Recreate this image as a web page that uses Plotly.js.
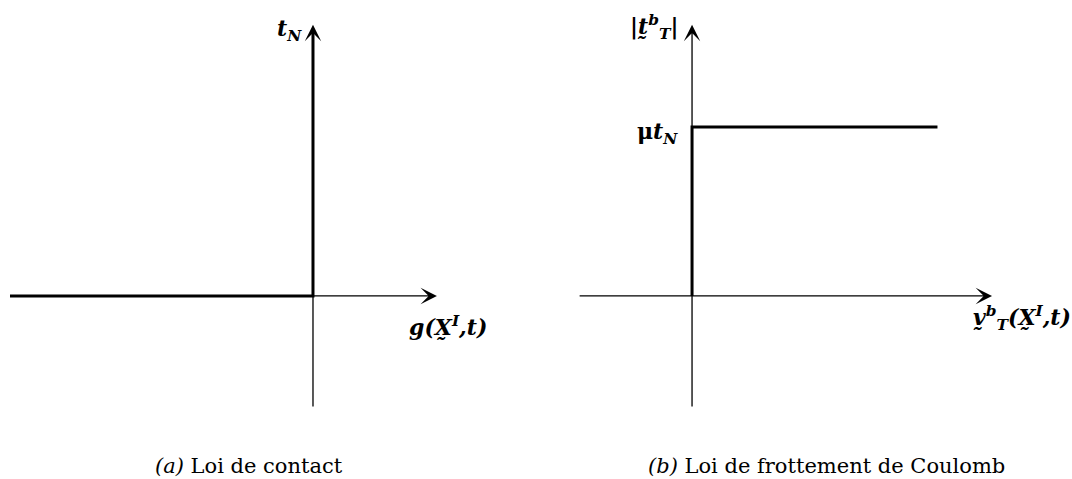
<!DOCTYPE html>
<html>
<head>
<meta charset="utf-8">
<script src="https://cdn.plot.ly/plotly-3.0.1.min.js"></script>
<style>html,body{margin:0;padding:0;background:#fff;}#chart{width:1072px;height:479px;}</style>
</head>
<body>
<div id="chart"></div>
<script>
// (a) Contact law: gap g vs normal traction tN
const gapA = [-1, 0, 0];
const tractionA = [0, 0, 1.58];
// (b) Coulomb friction: slip velocity vs |tT|
const slipB = [0, 0, 0.81];
const frictionB = [0, 1, 1];
// axis extents (data units)
const axisA = {xFrom: -1, xTo: 0.409, yFrom: -0.663, yTo: 1.604};
const axisB = {xFrom: -0.376, xTo: 0.99, yFrom: -0.663, yTo: 1.604};
const captions = ["<i>(a)</i> Loi de contact", "<i>(b)</i> Loi de frottement de Coulomb"];

const serif = "DejaVu Serif, Liberation Serif, serif";
const thick = {color: "#000", width: 3};

const traces = [
  {x: gapA, y: tractionA, xaxis: "x", yaxis: "y", mode: "lines", line: thick, hoverinfo: "skip"},
  {x: slipB, y: frictionB, xaxis: "x2", yaxis: "y2", mode: "lines", line: thick, hoverinfo: "skip"}
];

function axisArrows(ax, xr, yr) {
  const common = {text: "", showarrow: true, arrowhead: 3, arrowsize: 2.1, arrowwidth: 1.3,
    arrowcolor: "#000", standoff: 0, startstandoff: 0, axref: xr, ayref: yr, xref: xr, yref: yr};
  return [
    Object.assign({}, common, {x: ax.xTo, y: 0, ax: ax.xFrom, ay: 0}),
    Object.assign({}, common, {x: 0, y: ax.yTo, ax: 0, ay: ax.yFrom})
  ];
}

const lblFont = {family: serif, size: 22, color: "#000"};
const capFont = {family: serif, size: 21, color: "#000"};
const annotations = [].concat(
  axisArrows(axisA, "x", "y"),
  axisArrows(axisB, "x2", "y2"),
  [
    {xref: "x", yref: "y", x: -0.03, y: 1.574, text: "<b><i>t<sub>N</sub></i></b>", showarrow: false, xanchor: "right", yanchor: "middle", font: lblFont},
    {xref: "x", yref: "y", x: 0.31, y: -0.178, text: "<b><i>g(X\u0330<sup>I</sup>,t)</i></b>", showarrow: false, xanchor: "left", yanchor: "middle", font: lblFont},
    {xref: "x2", yref: "y2", x: -0.04, y: 1.59, text: "<b>|<i>t\u0330<sup>b</sup><sub>T</sub></i>|</b>", showarrow: false, xanchor: "right", yanchor: "middle", font: lblFont},
    {xref: "x2", yref: "y2", x: -0.04, y: 0.964, text: "<b>\u03bc<i>t<sub>N</sub></i></b>", showarrow: false, xanchor: "right", yanchor: "middle", font: lblFont},
    {xref: "x2", yref: "y2", x: 0.92, y: -0.13, text: "<b><i>v\u0330<sup>b</sup><sub>T</sub>(X\u0330<sup>I</sup>,t)</i></b>", showarrow: false, xanchor: "left", yanchor: "middle", font: lblFont},
    {xref: "paper", yref: "paper", x: 153/1072, y: 1 - 466/479, text: captions[0], showarrow: false, xanchor: "left", yanchor: "middle", font: capFont},
    {xref: "paper", yref: "paper", x: 646/1072, y: 1 - 466/479, text: captions[1], showarrow: false, xanchor: "left", yanchor: "middle", font: capFont}
  ]
);

const hidden = {showgrid: false, zeroline: false, showticklabels: false, showline: false, ticks: "", fixedrange: true};
const layout = {
  width: 1072, height: 479,
  margin: {l: 0, r: 0, t: 0, b: 0},
  paper_bgcolor: "#fff", plot_bgcolor: "#fff",
  showlegend: false,
  xaxis: Object.assign({}, hidden, {domain: [0, 0.5], range: [-1.033, 0.736]}),
  yaxis: Object.assign({}, hidden, {domain: [0, 1], range: [-1.083, 1.751], anchor: "x"}),
  xaxis2: Object.assign({}, hidden, {domain: [0.5, 1], range: [-0.515, 1.254], anchor: "y2"}),
  yaxis2: Object.assign({}, hidden, {domain: [0, 1], range: [-1.083, 1.751], anchor: "x2"}),
  annotations: annotations
};

Plotly.newPlot("chart", traces, layout, {staticPlot: true, displayModeBar: false});
</script>
</body>
</html>
